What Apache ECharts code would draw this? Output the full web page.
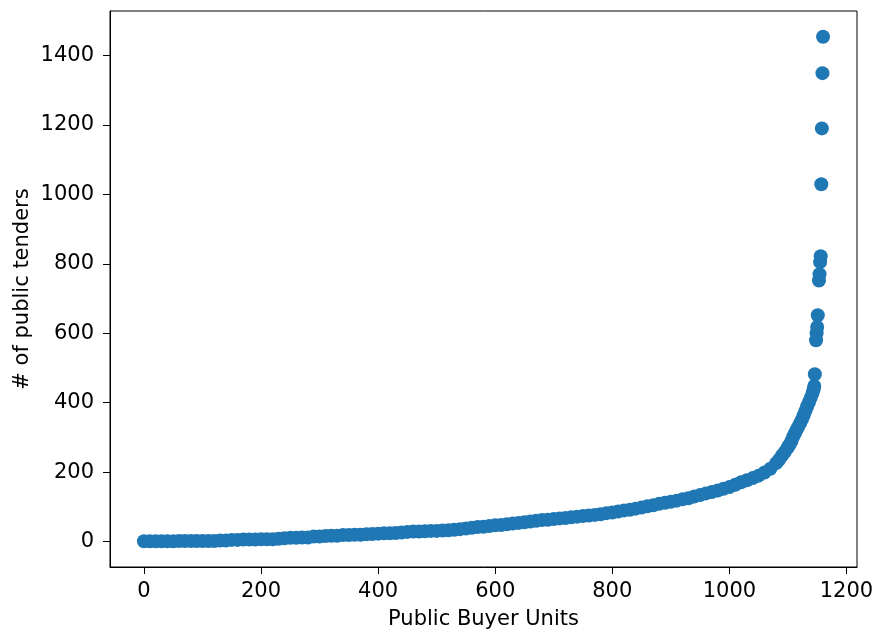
<!DOCTYPE html>
<html>
<head>
<meta charset="utf-8">
<script src="https://cdn.jsdelivr.net/npm/echarts@6/dist/echarts.min.js"></script>
<style>html,body{margin:0;padding:0;background:#fff;}#c{width:873px;height:633px;}</style>
</head>
<body>
<div id="c"></div>
<script>
// Public buyer unit index (sorted by number of tenders)
var unitIndex = [
  0,10,20,30,40,50,60,70,80,90,100,110,120,130,140,
  150,160,170,180,190,200,210,220,230,
  240,250,260,270,280,
  290,300,310,320,330,
  340,350,360,370,380,
  390,400,410,420,430,440,
  450,460,470,480,490,500,
  510,520,530,540,550,560,570,580,590,600,610,620,630,640,650,660,670,680,690,700,
  710,720,730,740,750,760,770,780,790,800,810,820,830,840,850,860,870,880,890,900,
  910,920,930,940,950,960,970,980,990,1000,1010,1020,1030,1040,1050,1060,1070,1080,
  1085,1090,1095,1100,1103,1106,1109,1112,1115,1118,1121,1124,1127,1130,1133,1136,1139,1142,1144,1145,
  1146,1148,1149,1150,1151,1153,1154,1155,1156,1157,1158,1159,1160
];
// Number of public tenders per unit
var tenders = [
  1,1,1,1,1,1,2,2,2,2,2,2,2,3,3,
  5,5,6,6,6,7,7,7,8,
  10,11,11,12,12,
  15,15,16,17,17,
  19,19,20,20,21,
  22,23,24,24,25,26,
  28,29,29,30,31,31,
  32,33,34,36,38,40,42,43,45,47,48,50,52,54,56,58,60,62,63,65,
  67,68,70,72,74,75,77,79,82,84,87,90,92,95,98,102,105,109,112,115,
  118,122,125,130,134,139,143,147,152,157,164,171,177,183,190,199,210,226,
  236,248,259,272,280,290,302,312,322,332,342,352,364,377,390,402,414,428,438,448,
  482,580,600,618,652,752,770,805,822,1029,1190,1349,1454
];
var xTicks = [0,200,400,600,800,1000,1200];
var yTicks = [0,200,400,600,800,1000,1200,1400];

var pts = unitIndex.map(function(x,i){return [x, tenders[i]];});
var chart = echarts.init(document.getElementById('c'), null, {renderer:'canvas'});
var font = 'DejaVu Sans';
var fs = 21;
function plain(v){ return String(v); }
chart.setOption({
  animation:false,
  backgroundColor:'#fff',
  grid:{left:110,right:16,top:11,bottom:66,show:true,borderColor:'#000',borderWidth:1,containLabel:false,outerBoundsMode:'none'},
  xAxis:{
    type:'value', min:-58, max:1218,
    name:'Public Buyer Units', nameLocation:'middle', nameGap:42, nameMoveOverlap:false,
    nameTextStyle:{color:'#000',fontFamily:font,fontSize:fs},
    axisLine:{show:true,onZero:false,lineStyle:{color:'#000',width:1}},
    axisTick:{show:true,length:7,lineStyle:{color:'#000'},customValues:xTicks},
    axisLabel:{color:'#000',fontFamily:font,fontSize:fs,margin:14,customValues:xTicks,formatter:plain},
    splitLine:{show:false}
  },
  yAxis:{
    type:'value', min:-73, max:1528,
    name:'# of public tenders', nameLocation:'middle', nameGap:77, nameMoveOverlap:false,
    nameTextStyle:{color:'#000',fontFamily:font,fontSize:fs},
    axisLine:{show:true,onZero:false,lineStyle:{color:'#000',width:1}},
    axisTick:{show:true,length:7,lineStyle:{color:'#000'},customValues:yTicks},
    axisLabel:{color:'#000',fontFamily:font,fontSize:fs,margin:16,customValues:yTicks,formatter:plain},
    splitLine:{show:false}
  },
  series:[{
    type:'scatter',
    data:pts,
    symbol:'circle',
    symbolSize:14,
    itemStyle:{color:'#1f77b4',opacity:1},
    silent:true
  }]
});
</script>
</body>
</html>
